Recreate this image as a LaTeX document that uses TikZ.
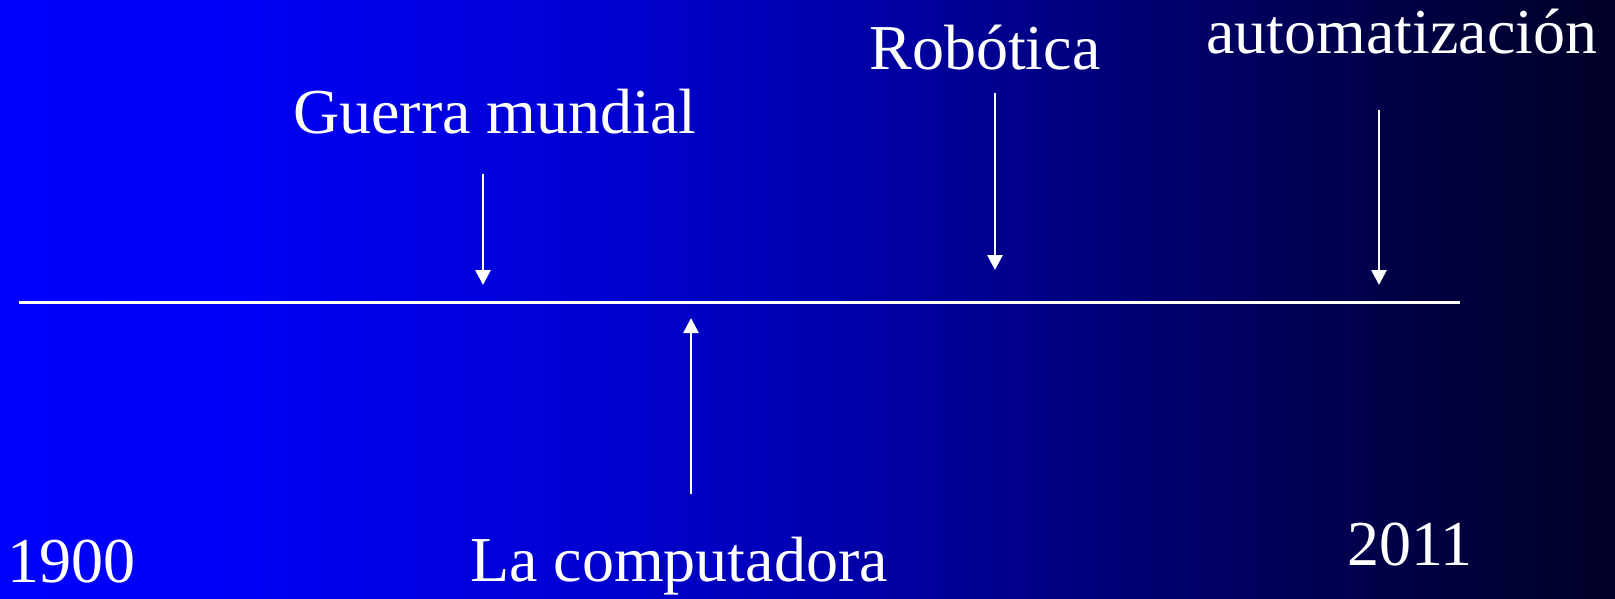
\documentclass[tikz,border=0pt]{standalone}
\usepackage{fontspec}
\setmainfont{Liberation Serif}
\usetikzlibrary{arrows.meta}
\pgfdeclarehorizontalshading{bgshade}{100bp}{rgb(0bp)=(0,0,1); rgb(25bp)=(0,0,1); rgb(32bp)=(0,0,0.97); rgb(45bp)=(0,0,0.80); rgb(53bp)=(0,0,0.63); rgb(59bp)=(0,0,0.48); rgb(65bp)=(0,0,0.34); rgb(71bp)=(0,0,0.22); rgb(75bp)=(0,0,0.15); rgb(100bp)=(0,0,0.15)}
\tikzset{
  lbl/.style={text=white, inner sep=0pt, anchor=base, font=\fontsize{64}{76}\selectfont},
  tline/.style={draw=white, line width=3pt},
  evarrow/.style={draw=white, line width=2.7pt, -{Triangle[width=15pt,length=15pt]}}
}
\begin{document}
\begin{tikzpicture}[x=1pt,y=-1pt]
\useasboundingbox (0,0) rectangle (1615,598);
\shade[shading=bgshade] (0,0) rectangle (1615,598);
% timeline
\coordinate (L) at (18.5,302);
\coordinate (R) at (1460,302);
\draw[tline] (L) -- (R);
% labels
\node[lbl] (guerra) at (495,133) {Guerra mundial};
\node[lbl] (robot) at (985,69) {Robótica};
\node[lbl] (auto) at (1402,53) {automatización};
\node[lbl] (y1900) at (72,582) {1900};
\node[lbl] (comp) at (679,581) {La computadora};
\node[lbl] (y2011) at (1410,565) {2011};
% arrows
\coordinate (a1s) at (483,174); \coordinate (a1e) at (483,285);
\coordinate (a2s) at (691,494); \coordinate (a2e) at (691,318);
\coordinate (a3s) at (995,93);  \coordinate (a3e) at (995,270);
\coordinate (a4s) at (1379,110); \coordinate (a4e) at (1379,285);
\draw[evarrow] (a1s) -- (a1e);
\draw[evarrow] (a2s) -- (a2e);
\draw[evarrow] (a3s) -- (a3e);
\draw[evarrow] (a4s) -- (a4e);
\end{tikzpicture}
\end{document}
